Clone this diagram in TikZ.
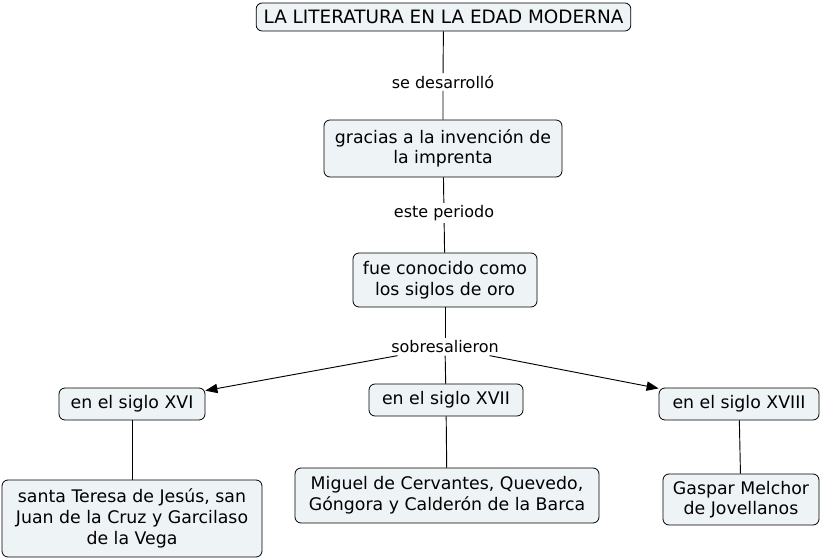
\documentclass[tikz,border=0pt]{standalone}
\usepackage{fontspec}
\setmainfont{DejaVu Sans}
\usetikzlibrary{arrows.meta}
\definecolor{conceptfill}{HTML}{EEF3F6}
\tikzset{concepto/.style={draw=black,line width=0.6pt,fill=conceptfill,rounded corners=4.5pt,align=center,inner sep=1pt,font=\fontsize{13}{15.5}\selectfont},
enlace/.style={inner sep=1.5pt,font=\fontsize{12}{14}\selectfont}}

\begin{document}
\begin{tikzpicture}[x=0.75pt,y=-0.75pt,line width=0.7pt,>={Triangle[length=9pt,width=7pt]}]
\useasboundingbox(0,0)rectangle(822,560);
\node[concepto,minimum width=281pt,minimum height=21pt,font=\fontsize{13.8}{15.5}\selectfont](lit)at(443.5,17){LA LITERATURA EN LA EDAD MODERNA};
\node[concepto,minimum width=178.5pt,minimum height=42.75pt](imp)at(443,148.5){gracias a la invención de\\la imprenta};
\node[concepto,minimum width=138pt,minimum height=40.5pt](oro)at(445,280){fue conocido como\\los siglos de oro};
\node[concepto,minimum width=109.5pt,minimum height=24pt](xvi)at(132,404){en el siglo XVI};
\node[concepto,minimum width=115.5pt,minimum height=24pt](xvii)at(446,400){en el siglo XVII};
\node[concepto,minimum width=120pt,minimum height=24pt](xviii)at(739,404){en el siglo XVIII};
\node[concepto,minimum width=195pt,minimum height=57.75pt](teresa)at(132,518.5){santa Teresa de Jesús, san\\Juan de la Cruz y Garcilaso\\de la Vega};
\node[concepto,minimum width=228pt,minimum height=41.25pt](cervantes)at(447,495.5){Miguel de Cervantes, Quevedo,\\Góngora y Calderón de la Barca};
\node[concepto,minimum width=117pt,minimum height=38.25pt](jovellanos)at(741,499.5){Gaspar Melchor\\de Jovellanos};
\node[enlace](l1)at(443,82){se desarrolló};
\node[enlace](l2)at(444,213){este periodo};
\node[enlace](l3)at(445,347){sobresalieron};
\draw(lit)--(l1)--(imp);
\draw(imp)--(l2)--(oro);
\draw(oro)--(l3);
\draw[->](l3)--(xvi);
\draw(l3)--(xvii);
\draw[->](l3)--(xviii);
\draw(xvi)--(teresa);
\draw(xvii)--(cervantes);
\draw(xviii)--(jovellanos);
\end{tikzpicture}
\end{document}
